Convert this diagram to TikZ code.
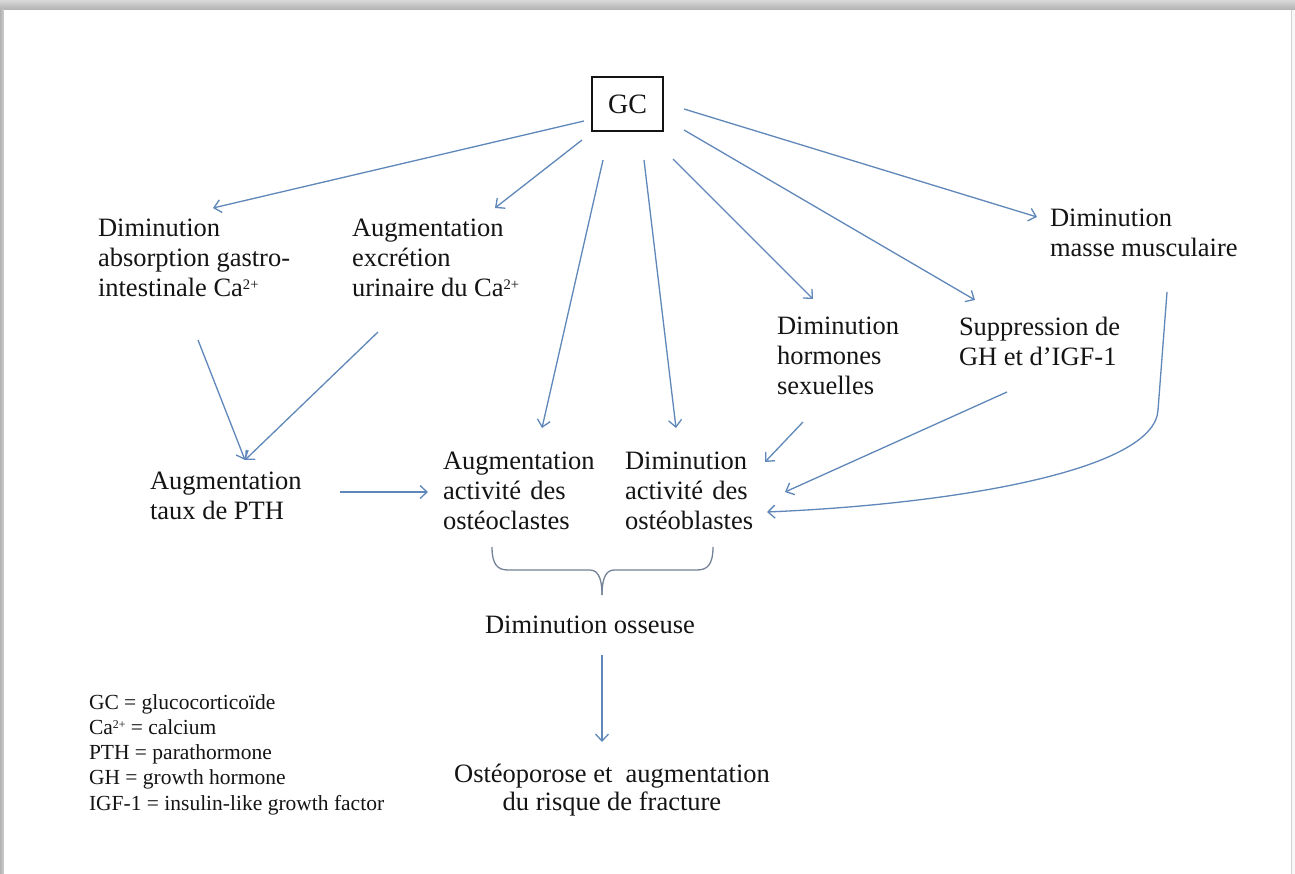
\documentclass[tikz,border=0pt]{standalone}
\usepackage{fontspec}
\setmainfont{Liberation Serif}
\usetikzlibrary{arrows.meta,calc}

\definecolor{linkblue}{RGB}{95,135,185}
\definecolor{bracegray}{RGB}{115,130,150}
\definecolor{ink}{RGB}{20,20,20}

% small raised charge for the calcium ion
\newcommand{\ionsup}{\raisebox{0.62ex}{\scalebox{0.55}{2+}}}

\tikzset{
  txt/.style={inner sep=0pt, outer sep=0pt, align=left, anchor=north west,
    text=ink, font=\fontsize{26.5}{30}\selectfont, execute at begin node=\strut},
  arr/.style={draw=linkblue, line width=1.3pt,
    -{Straight Barb[length=7pt,width=13pt,line width=1.3pt]}},
  bracestyle/.style={draw=bracegray, line width=1.3pt},
}

\begin{document}
\begin{tikzpicture}[x=1pt, y=-1pt]
  \useasboundingbox (0,0) rectangle (1295,874);

  % page with its drop shadow
  \fill[gray!6] (0,0) rectangle (1295,874);
  \shade[top color=gray!30, bottom color=gray!62] (0,0) rectangle (1295,10);
  \shade[left color=gray!60, right color=gray!38] (0,10) rectangle (4,874);
  \fill[white] (4,10) rectangle (1291,874);
  \draw[gray!35, line width=0.8pt] (1291,10) -- (1291,874);

  % source
  \node[draw=ink, line width=1.2pt, minimum width=71pt, minimum height=54pt,
        inner sep=0pt, text=ink, font=\fontsize{28}{30}\selectfont]
        (gc) at (627.5,104) {GC};

  % direct effects
  \node[txt] (absorp) at (98,219) {Diminution\\absorption gastro-\\intestinale Ca\ionsup};
  \node[txt] (excr)   at (352,219) {Augmentation\\excrétion\\urinaire du Ca\ionsup};
  \node[txt] (masse)  at (1050,209) {Diminution\\masse musculaire};
  \node[txt] (horm)   at (777,317) {Diminution\\hormones\\sexuelles};
  \node[txt] (supp)   at (959,317) {Suppression de\\GH et d’IGF-1};

  % intermediate effects
  \node[txt] (pth) at (150,472) {Augmentation\\taux de PTH};
  \node[txt] (ocl) at (443,452) {Augmentation\\activité\hspace{.35em}des\\ostéoclastes};
  \node[txt] (obl) at (625,452) {Diminution\\activité\hspace{.35em}des\\ostéoblastes};

  % outcome
  \node[txt, anchor=base] (osseuse) at (590,633) {Diminution osseuse};
  \node[txt, align=center, anchor=north, font=\fontsize{26.5}{28}\selectfont]
        (fract) at (612,764) {Ostéoporose et\hspace{.5em}augmentation\\du risque de fracture};

  % abbreviations
  \node[txt, font=\fontsize{21.5}{25.2}\selectfont] (legend) at (89,694.4)
        {GC = glucocorticoïde\\Ca\ionsup{} = calcium\\PTH = parathormone\\GH = growth hormone\\IGF-1 = insulin-like growth factor};

  % arrows leaving GC
  \draw[arr] ([shift={(-43.5,17)}]gc.center) -- ([shift={(115,-11)}]absorp.north west);
  \draw[arr] ([shift={(-45.5,36)}]gc.center) -- ([shift={(143,-11)}]excr.north west);
  \draw[arr] ([shift={(-24.5,56)}]gc.center) -- ([shift={(99,-24)}]ocl.north west);
  \draw[arr] ([shift={(16.5,56)}]gc.center)  -- ([shift={(51,-24)}]obl.north west);
  \draw[arr] ([shift={(45.5,55)}]gc.center)  -- ([shift={(36,-18)}]horm.north west);
  \draw[arr] ([shift={(56.5,26)}]gc.center)  -- ([shift={(16,-17)}]supp.north west);
  \draw[arr] ([shift={(56.5,5)}]gc.center)   -- ([shift={(-13,8)}]masse.north west);

  % calcium balance to PTH
  \draw[arr] ([shift={(100,121)}]absorp.north west) -- ([shift={(95,-12)}]pth.north west);
  \draw[arr] ([shift={(26,113)}]excr.north west)    -- ([shift={(95,-12)}]pth.north west);
  \draw[arr] ([shift={(190,20)}]pth.north west)     -- ([shift={(-15,40)}]ocl.north west);

  % effects on osteoblasts
  \draw[arr] ([shift={(26,105)}]horm.north west) -- ([shift={(140,10)}]obl.north west);
  \draw[arr] ([shift={(48,75)}]supp.north west)  -- ([shift={(160,40)}]obl.north west);
  \draw[arr] ([shift={(117,83)}]masse.north west) -- ++(-9,118)
             .. controls +(-3,60) and +(190,-8) .. ([shift={(142,60)}]obl.north west);

  % brace gathering both cell activities
  \coordinate (bL) at ([shift={(49,95)}]ocl.north west);
  \coordinate (bR) at ([shift={(88,95)}]obl.north west);
  \coordinate (bT) at ([shift={(12,-38)}]osseuse.base);
  \draw[bracestyle] (bL) .. controls +(0,18) and +(-10,0) .. ($(bL)+(16,23)$)
        -- ($(bT)+(-12,-25)$) .. controls +(10,0) and +(0,-12) .. (bT);
  \draw[bracestyle] (bR) .. controls +(0,18) and +(10,0) .. ($(bR)+(-16,23)$)
        -- ($(bT)+(12,-25)$) .. controls +(-10,0) and +(0,-12) .. (bT);

  % bone loss to fracture risk
  \draw[arr] ([shift={(12,22)}]osseuse.base) -- ([shift={(-10,-22)}]fract.north);
\end{tikzpicture}
\end{document}
